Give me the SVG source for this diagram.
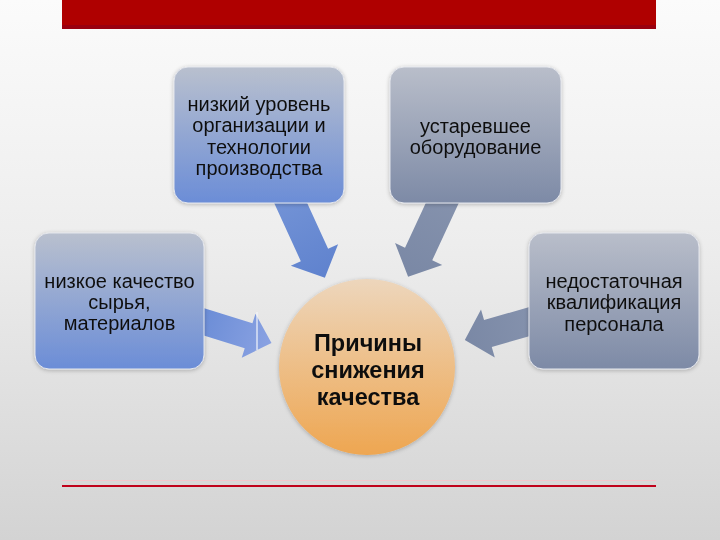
<svg xmlns="http://www.w3.org/2000/svg" width="720" height="540" viewBox="0 0 720 540">
  <defs>
    <linearGradient id="bg" x1="0" y1="0" x2="0" y2="1">
      <stop offset="0" stop-color="#FBFBFB"/>
      <stop offset="0.45" stop-color="#EDEDED"/>
      <stop offset="1" stop-color="#D3D3D3"/>
    </linearGradient>
    <linearGradient id="blueBox" x1="0" y1="0" x2="0" y2="1">
      <stop offset="0" stop-color="#B9C0CE"/>
      <stop offset="1" stop-color="#6B8DD7"/>
    </linearGradient>
    <linearGradient id="grayBox" x1="0" y1="0" x2="0" y2="1">
      <stop offset="0" stop-color="#B9BECA"/>
      <stop offset="1" stop-color="#7D8AA6"/>
    </linearGradient>
    <linearGradient id="circ" x1="0" y1="0" x2="0" y2="1">
      <stop offset="0" stop-color="#EDD6BC"/>
      <stop offset="1" stop-color="#EEA651"/>
    </linearGradient>
    <linearGradient id="blueArrow" x1="0" y1="0" x2="1" y2="0">
      <stop offset="0" stop-color="#7393D6"/>
      <stop offset="1" stop-color="#5F82CE"/>
    </linearGradient>
    <linearGradient id="blueArrowL" x1="0" y1="0" x2="1" y2="0">
      <stop offset="0" stop-color="#6A8CD6"/>
      <stop offset="1" stop-color="#8AA2E2"/>
    </linearGradient>
    <linearGradient id="grayArrow" x1="0" y1="0" x2="1" y2="0">
      <stop offset="0" stop-color="#8592AD"/>
      <stop offset="1" stop-color="#7A88A5"/>
    </linearGradient>
    <filter id="soft" x="-10%" y="-10%" width="120%" height="120%">
      <feGaussianBlur in="SourceAlpha" stdDeviation="2"/>
      <feOffset dx="0" dy="1"/>
      <feComponentTransfer><feFuncA type="linear" slope="0.25"/></feComponentTransfer>
      <feMerge><feMergeNode/><feMergeNode in="SourceGraphic"/></feMerge>
    </filter>
  </defs>
  <style>
    .t { font-family: "Liberation Sans", Arial, sans-serif; font-size: 20px; fill: #111; text-anchor: middle; }
    .c { font-family: "Liberation Sans", Arial, sans-serif; font-size: 23.5px; font-weight: bold; fill: #111; text-anchor: middle; }
    .box { stroke: #E4E6EC; stroke-width: 1; }
  </style>

  <rect x="0" y="0" width="720" height="540" fill="url(#bg)"/>

  <!-- top bar -->
  <rect x="62" y="0" width="594" height="29" fill="#AF0000"/>
  <rect x="62" y="25" width="594" height="4" fill="#99000F"/>
  <!-- bottom line -->
  <line x1="62" y1="480.5" x2="656" y2="480.5" stroke="#F2C6CC" stroke-width="1"/>
  <line x1="62" y1="486" x2="656" y2="486" stroke="#C0001A" stroke-width="2"/>

  <g id="connectors">
    <polygon transform="translate(287,195) rotate(65.4)" points="0,-15 66,-15 66,-26 91,0 66,26 66,15 0,15" fill="url(#blueArrow)"/>
    <polygon transform="translate(446,195) rotate(114.9)" points="0,-15 65,-15 65,-26 90,0 65,26 65,15 0,15" fill="url(#grayArrow)"/>
    <polygon transform="translate(198,320) rotate(17.3)" points="0,-13 53,-13 53,-23 77,0 53,23 53,13 0,13" fill="url(#blueArrowL)"/>
    <line x1="257" y1="312" x2="257" y2="350" stroke="#F4F6FB" stroke-width="1.2"/>
    <polygon transform="translate(535,320) rotate(164)" points="0,-14 49,-14 49,-25 73,0 49,25 49,14 0,14" fill="url(#grayArrow)"/>
  </g>

  <g id="node-organization" filter="url(#soft)">
    <rect class="box" x="174" y="67" width="170" height="136" rx="14" fill="url(#blueBox)"/>
    <text class="t" x="259" y="110.5">низкий уровень</text>
    <text class="t" x="259" y="132">организации и</text>
    <text class="t" x="259" y="153.5">технологии</text>
    <text class="t" x="259" y="175">производства</text>
  </g>

  <g id="node-equipment" filter="url(#soft)">
    <rect class="box" x="390" y="67" width="171" height="136" rx="14" fill="url(#grayBox)"/>
    <text class="t" x="475.5" y="132.5">устаревшее</text>
    <text class="t" x="475.5" y="154">оборудование</text>
  </g>

  <g id="node-materials" filter="url(#soft)">
    <rect class="box" x="35" y="233" width="169" height="136" rx="14" fill="url(#blueBox)"/>
    <text class="t" x="119.5" y="287.5">низкое качество</text>
    <text class="t" x="119.5" y="308.5">сырья,</text>
    <text class="t" x="119.5" y="330">материалов</text>
  </g>

  <g id="node-personnel" filter="url(#soft)">
    <rect class="box" x="529" y="233" width="170" height="136" rx="14" fill="url(#grayBox)"/>
    <text class="t" x="614" y="287.5">недостаточная</text>
    <text class="t" x="614" y="309">квалификация</text>
    <text class="t" x="614" y="330.5">персонала</text>
  </g>

  <g id="node-center" filter="url(#soft)">
    <circle cx="367" cy="367" r="88" fill="url(#circ)"/>
    <text class="c" x="368" y="350.5">Причины</text>
    <text class="c" x="368" y="377.5">снижения</text>
    <text class="c" x="368" y="404.5">качества</text>
  </g>
</svg>
